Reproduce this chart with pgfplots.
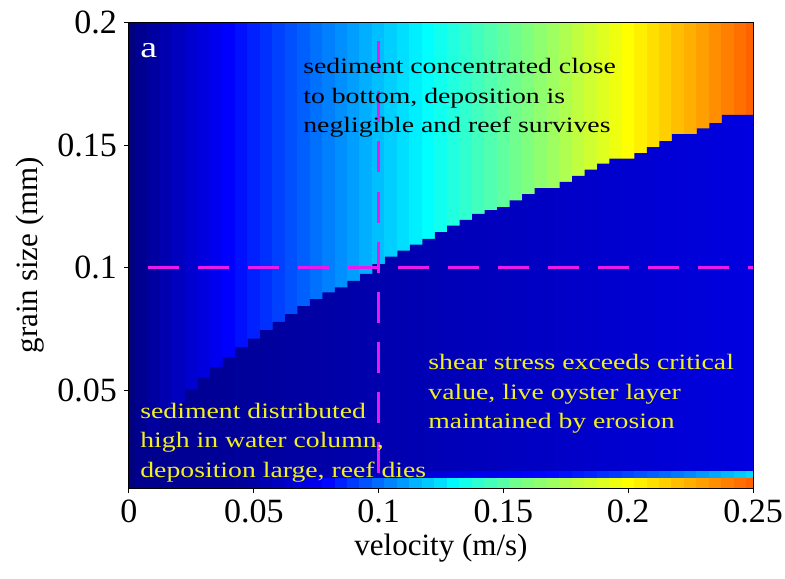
\documentclass[border=0pt]{standalone}
\usepackage{fontspec}
\setmainfont{Liberation Serif}[FakeStretch=1.26]
\newfontfamily\plainserif{Liberation Serif}
\usepackage{pgfplots}
\pgfplotsset{compat=1.18}
\definecolor{mag}{RGB}{235,25,235}
\definecolor{ylw}{RGB}{240,240,30}
\definecolor{navyL}{RGB}{0,0,140}
\definecolor{navyR}{RGB}{0,0,225}
\begin{document}
\begin{tikzpicture}
\begin{axis}[
 scale only axis, width=312pt, height=232.75pt,
 xmin=0, xmax=0.25, ymin=0.0102, ymax=0.2,
 xtick={0,0.05,0.1,0.15,0.2,0.25}, xticklabels={0,0.05,0.1,0.15,0.2,0.25},
 ytick={0.05,0.1,0.15,0.2}, yticklabels={0.05,0.1,0.15,0.2},
 tick align=outside, major tick length=2.5pt, xtick pos=left, ytick pos=left,
 axis on top,
 colormap/jet, point meta min=0, point meta max=0.32,
 tick label style={font=\plainserif\fontsize{17}{20}\selectfont},
 label style={font=\plainserif\fontsize{15.5}{18}\selectfont},
 xlabel={velocity (m/s)}, ylabel={grain size (mm)},
 xlabel style={at={(axis description cs:0.5,-0.129)}, anchor=center},
 ylabel style={at={(axis description cs:-0.159,0.5)}, anchor=center},
 axis line style={black, line width=0.5pt},
 tick style={black, line width=0.5pt},
]
% upper region: colour set by velocity
\addplot[surf, shader=flat corner, mesh/rows=2, point meta=explicit, draw=none] coordinates {
(0,0.0102)[0] (0.0025,0.0102)[0.005] (0.0075,0.0102)[0.01] (0.0125,0.0102)[0.015] (0.0175,0.0102)[0.02] (0.0225,0.0102)[0.025] (0.0275,0.0102)[0.03] (0.0325,0.0102)[0.035] (0.0375,0.0102)[0.04] (0.0425,0.0102)[0.045] (0.0475,0.0102)[0.05] (0.0525,0.0102)[0.055] (0.0575,0.0102)[0.06] (0.0625,0.0102)[0.065] (0.0675,0.0102)[0.07] (0.0725,0.0102)[0.075] (0.0775,0.0102)[0.08] (0.0825,0.0102)[0.085] (0.0875,0.0102)[0.09] (0.0925,0.0102)[0.095] (0.0975,0.0102)[0.1] (0.1025,0.0102)[0.105] (0.1075,0.0102)[0.11] (0.1125,0.0102)[0.115] (0.1175,0.0102)[0.12] (0.1225,0.0102)[0.125] (0.1275,0.0102)[0.13] (0.1325,0.0102)[0.135] (0.1375,0.0102)[0.14] (0.1425,0.0102)[0.145] (0.1475,0.0102)[0.15] (0.1525,0.0102)[0.155] (0.1575,0.0102)[0.16] (0.1625,0.0102)[0.165] (0.1675,0.0102)[0.17] (0.1725,0.0102)[0.175] (0.1775,0.0102)[0.18] (0.1825,0.0102)[0.185] (0.1875,0.0102)[0.19] (0.1925,0.0102)[0.195] (0.1975,0.0102)[0.2] (0.2025,0.0102)[0.205] (0.2075,0.0102)[0.21] (0.2125,0.0102)[0.215] (0.2175,0.0102)[0.22] (0.2225,0.0102)[0.225] (0.2275,0.0102)[0.23] (0.2325,0.0102)[0.235] (0.2375,0.0102)[0.24] (0.2425,0.0102)[0.245] (0.2475,0.0102)[0.25] (0.25,0.0102)[0.25]
(0,0.2)[0] (0.0025,0.2)[0.005] (0.0075,0.2)[0.01] (0.0125,0.2)[0.015] (0.0175,0.2)[0.02] (0.0225,0.2)[0.025] (0.0275,0.2)[0.03] (0.0325,0.2)[0.035] (0.0375,0.2)[0.04] (0.0425,0.2)[0.045] (0.0475,0.2)[0.05] (0.0525,0.2)[0.055] (0.0575,0.2)[0.06] (0.0625,0.2)[0.065] (0.0675,0.2)[0.07] (0.0725,0.2)[0.075] (0.0775,0.2)[0.08] (0.0825,0.2)[0.085] (0.0875,0.2)[0.09] (0.0925,0.2)[0.095] (0.0975,0.2)[0.1] (0.1025,0.2)[0.105] (0.1075,0.2)[0.11] (0.1125,0.2)[0.115] (0.1175,0.2)[0.12] (0.1225,0.2)[0.125] (0.1275,0.2)[0.13] (0.1325,0.2)[0.135] (0.1375,0.2)[0.14] (0.1425,0.2)[0.145] (0.1475,0.2)[0.15] (0.1525,0.2)[0.155] (0.1575,0.2)[0.16] (0.1625,0.2)[0.165] (0.1675,0.2)[0.17] (0.1725,0.2)[0.175] (0.1775,0.2)[0.18] (0.1825,0.2)[0.185] (0.1875,0.2)[0.19] (0.1925,0.2)[0.195] (0.1975,0.2)[0.2] (0.2025,0.2)[0.205] (0.2075,0.2)[0.21] (0.2125,0.2)[0.215] (0.2175,0.2)[0.22] (0.2225,0.2)[0.225] (0.2275,0.2)[0.23] (0.2325,0.2)[0.235] (0.2375,0.2)[0.24] (0.2425,0.2)[0.245] (0.2475,0.2)[0.25] (0.25,0.2)[0.25]
};
% lower region below the staircase boundary
\addplot[const plot mark left, draw=none, left color=navyL, right color=navyR] coordinates {
(0.0025,0.0225) (0.0075,0.032) (0.0125,0.039) (0.0175,0.045) (0.0225,0.0503) (0.0275,0.0551) (0.0325,0.0595) (0.0375,0.0636) (0.0425,0.0675) (0.0475,0.0711) (0.0525,0.0746) (0.0575,0.0779) (0.0625,0.0811) (0.0675,0.0844) (0.0725,0.0872) (0.0775,0.09) (0.0825,0.092) (0.0875,0.0947) (0.0925,0.0975) (0.0975,0.1015) (0.1025,0.1045) (0.1075,0.107) (0.1125,0.1094) (0.1175,0.1118) (0.1225,0.1145) (0.1275,0.1172) (0.1325,0.1195) (0.1375,0.122) (0.1425,0.1235) (0.1475,0.1247) (0.1525,0.1275) (0.1575,0.13) (0.1625,0.1325) (0.1675,0.1325) (0.1725,0.135) (0.1775,0.1375) (0.1825,0.14) (0.1875,0.1425) (0.1925,0.1445) (0.1975,0.1445) (0.2025,0.1467) (0.2075,0.1492) (0.2125,0.1516) (0.2175,0.1545) (0.2225,0.1545) (0.2275,0.1568) (0.2325,0.159) (0.2375,0.1623) (0.2425,0.1623) (0.2475,0.1623) (0.25,0.1623)
} \closedcycle;
% bottom strip
\addplot[surf, shader=flat corner, mesh/rows=3, point meta=explicit, draw=none] coordinates {
(0.0475,0.0102)[0.012] (0.0525,0.0102)[0.016] (0.0575,0.0102)[0.02] (0.0625,0.0102)[0.025] (0.0675,0.0102)[0.03] (0.0725,0.0102)[0.035] (0.0775,0.0102)[0.042] (0.0825,0.0102)[0.05] (0.0875,0.0102)[0.058] (0.0925,0.0102)[0.066] (0.0975,0.0102)[0.074] (0.1025,0.0102)[0.081] (0.1075,0.0102)[0.088] (0.1125,0.0102)[0.096] (0.1175,0.0102)[0.103] (0.1225,0.0102)[0.11] (0.1275,0.0102)[0.118] (0.1325,0.0102)[0.126] (0.1375,0.0102)[0.134] (0.1425,0.0102)[0.141] (0.1475,0.0102)[0.148] (0.1525,0.0102)[0.155] (0.1575,0.0102)[0.16] (0.1625,0.0102)[0.165] (0.1675,0.0102)[0.17] (0.1725,0.0102)[0.175] (0.1775,0.0102)[0.18] (0.1825,0.0102)[0.185] (0.1875,0.0102)[0.19] (0.1925,0.0102)[0.195] (0.1975,0.0102)[0.2] (0.2025,0.0102)[0.205] (0.2075,0.0102)[0.21] (0.2125,0.0102)[0.215] (0.2175,0.0102)[0.22] (0.2225,0.0102)[0.225] (0.2275,0.0102)[0.23] (0.2325,0.0102)[0.235] (0.2375,0.0102)[0.24] (0.2425,0.0102)[0.245] (0.2475,0.0102)[0.25] (0.25,0.0102)[0.25]
(0.0475,0.0147)[0.010] (0.0525,0.0147)[0.011] (0.0575,0.0147)[0.012] (0.0625,0.0147)[0.013] (0.0675,0.0147)[0.014] (0.0725,0.0147)[0.015] (0.0775,0.0147)[0.016] (0.0825,0.0147)[0.017] (0.0875,0.0147)[0.018] (0.0925,0.0147)[0.019] (0.0975,0.0147)[0.020] (0.1025,0.0147)[0.022] (0.1075,0.0147)[0.024] (0.1125,0.0147)[0.026] (0.1175,0.0147)[0.028] (0.1225,0.0147)[0.030] (0.1275,0.0147)[0.031] (0.1325,0.0147)[0.032] (0.1375,0.0147)[0.034] (0.1425,0.0147)[0.035] (0.1475,0.0147)[0.036] (0.1525,0.0147)[0.038] (0.1575,0.0147)[0.039] (0.1625,0.0147)[0.041] (0.1675,0.0147)[0.042] (0.1725,0.0147)[0.045] (0.1775,0.0147)[0.048] (0.1825,0.0147)[0.051] (0.1875,0.0147)[0.055] (0.1925,0.0147)[0.058] (0.1975,0.0147)[0.062] (0.2025,0.0147)[0.066] (0.2075,0.0147)[0.07] (0.2125,0.0147)[0.074] (0.2175,0.0147)[0.078] (0.2225,0.0147)[0.083] (0.2275,0.0147)[0.088] (0.2325,0.0147)[0.093] (0.2375,0.0147)[0.098] (0.2425,0.0147)[0.103] (0.2475,0.0147)[0.108] (0.25,0.0147)[0.108]
(0.0475,0.017)[0.010] (0.0525,0.017)[0.011] (0.0575,0.017)[0.012] (0.0625,0.017)[0.013] (0.0675,0.017)[0.014] (0.0725,0.017)[0.015] (0.0775,0.017)[0.016] (0.0825,0.017)[0.017] (0.0875,0.017)[0.018] (0.0925,0.017)[0.019] (0.0975,0.017)[0.020] (0.1025,0.017)[0.022] (0.1075,0.017)[0.024] (0.1125,0.017)[0.026] (0.1175,0.017)[0.028] (0.1225,0.017)[0.030] (0.1275,0.017)[0.031] (0.1325,0.017)[0.032] (0.1375,0.017)[0.034] (0.1425,0.017)[0.035] (0.1475,0.017)[0.036] (0.1525,0.017)[0.038] (0.1575,0.017)[0.039] (0.1625,0.017)[0.041] (0.1675,0.017)[0.042] (0.1725,0.017)[0.045] (0.1775,0.017)[0.048] (0.1825,0.017)[0.051] (0.1875,0.017)[0.055] (0.1925,0.017)[0.058] (0.1975,0.017)[0.062] (0.2025,0.017)[0.066] (0.2075,0.017)[0.07] (0.2125,0.017)[0.074] (0.2175,0.017)[0.078] (0.2225,0.017)[0.083] (0.2275,0.017)[0.088] (0.2325,0.017)[0.093] (0.2375,0.017)[0.098] (0.2425,0.017)[0.103] (0.2475,0.017)[0.108] (0.25,0.017)[0.108]
};
% dashed reference lines
\addplot[mag, line width=1.5pt, dash pattern=on 15.5pt off 9.5pt, dash phase=15.5pt] coordinates {(0,0.1) (0.25,0.1)};
\addplot[mag, line width=1.5pt, dash pattern=on 15.5pt off 9.5pt, dash phase=15.5pt] coordinates {(0.1,0.2) (0.1,0.0102)};
% annotations
\node[anchor=north west, inner sep=0pt, text=white, font=\fontsize{15}{17}\selectfont] at (axis cs:0.0044,0.1916) {a};
\node[anchor=north west, inner sep=0pt, align=left, text=black, font=\fontsize{11}{14.75}\selectfont] at (axis cs:0.0697,0.1855) {sediment concentrated close\\to bottom, deposition is\\negligible and reef survives};
\node[anchor=north west, inner sep=0pt, align=left, text=ylw, font=\fontsize{11}{14.75}\selectfont] at (axis cs:0.1198,0.0649) {shear stress exceeds critical\\value, live oyster layer\\maintained by erosion};
\node[anchor=north west, inner sep=0pt, align=left, text=ylw, font=\fontsize{11}{14.75}\selectfont] at (axis cs:0.0044,0.0451) {sediment distributed\\high in water column,\\deposition large, reef dies};
\coordinate (bl) at (rel axis cs:0,0);
\end{axis}
\pgfresetboundingbox
\path (bl) ++(-64.5pt,-45pt) rectangle ++(392.5pt,289pt);
\end{tikzpicture}
\end{document}
